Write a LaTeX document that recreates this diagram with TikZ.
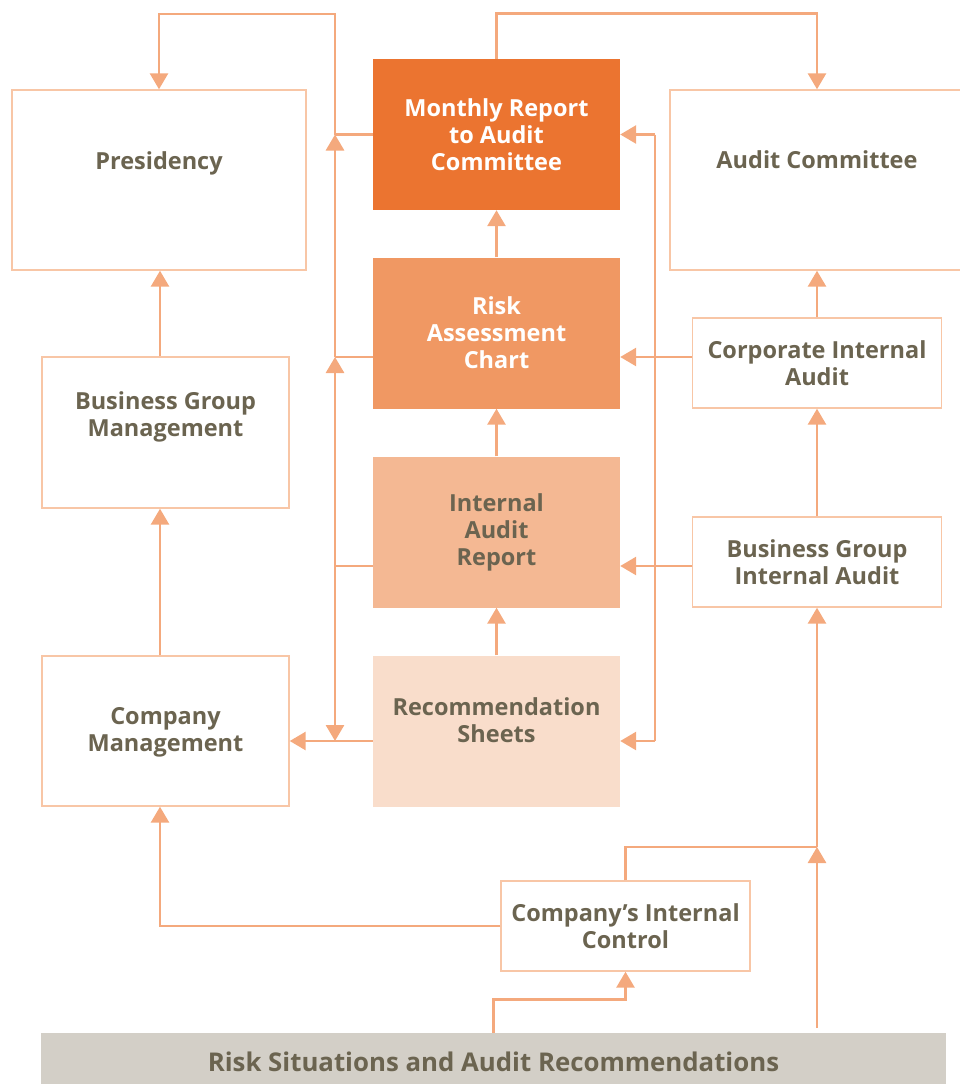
\documentclass[tikz,border=0pt]{standalone}
\usepackage{fontspec}
\setmainfont{Open Sans}
\usetikzlibrary{arrows.meta}

\definecolor{linkorange}{HTML}{F4A97D}
\definecolor{edgeorange}{HTML}{F8C6A6}
\definecolor{textbrown}{HTML}{6B6450}
\definecolor{monthfill}{HTML}{EB7430}
\definecolor{riskfill}{HTML}{F09863}
\definecolor{reportfill}{HTML}{F4B893}
\definecolor{sheetfill}{HTML}{F9DDCB}
\definecolor{barfill}{HTML}{D3CFC7}

\tikzset{
    unit box/.style={draw=edgeorange, line width=1.4pt, fill=white, inner sep=0pt},
    stage box/.style={draw=none, inner sep=0pt, minimum width=247pt, minimum height=151pt},
    label text/.style={text=textbrown, font=\fontsize{23.5}{27}\selectfont\bfseries, align=center, inner sep=0pt},
    white text/.style={label text, text=white},
    link/.style={draw=linkorange, line width=2.8pt},
    tip/.style={-{Triangle[width=18pt,length=16pt]}}
    }

\begin{document}
\begin{tikzpicture}[x=1pt,y=-1pt]
    \useasboundingbox (0,0) rectangle (959,1084);
    % Left column
    \node(presidency)[unit box, minimum width=294pt, minimum height=180pt] at (159,180) {};
    \node(presidency-t)[label text] at (159,163) {Presidency};
    \node(bgm)[unit box, minimum width=247pt, minimum height=151pt] at (165.5,432.5) {};
    \node(bgm-t)[label text] at (165.5,417) {Business Group\\Management};
    \node(company)[unit box, minimum width=247pt, minimum height=150pt] at (165.5,731) {};
    \node(company-t)[label text] at (165.5,732) {Company\\Management};
    % Middle column
    \node(monthly)[stage box, fill=monthfill, white text] at (496.5,134.5) {Monthly Report\\to Audit\\Committee};
    \node(risk)[stage box, fill=riskfill, white text] at (496.5,333) {Risk\\Assessment\\Chart};
    \node(report)[stage box, fill=reportfill, label text] at (496.5,532) {Internal\\Audit\\Report};
    \node(sheets)[stage box, fill=sheetfill] at (496.5,731) {};
    \node(sheets-t)[label text] at (496.5,720) {Recommendation\\Sheets};
    % Right column
    \node(auditcom)[unit box, minimum width=294pt, minimum height=180pt] at (817,180) {};
    \node(auditcom-t)[label text] at (817,160) {Audit Committee};
    \node(corpaudit)[unit box, minimum width=249pt, minimum height=90pt, label text] at (817,363) {Corporate Internal\\Audit};
    \node(bgaudit)[unit box, minimum width=249pt, minimum height=90pt, label text] at (817,562) {Business Group\\Internal Audit};
    \node(control)[unit box, minimum width=249pt, minimum height=90pt, label text] at (625.5,926) {Company’s Internal\\Control};
    % Bottom bar
    \node(bar)[fill=barfill, inner sep=0pt, minimum width=905pt, minimum height=51pt] at (493.5,1058.5) {};
    \node(bar-t)[label text, font=\fontsize{25.8}{30}\selectfont\bfseries] at (493.5,1062) {Risk Situations and Audit Recommendations};

    % Junctions
    \coordinate(lefttop) at (335,14);
    \coordinate(leftaxis) at (160,0);
    \coordinate(righttrunk) at (655,0);
    \coordinate(riskline) at (0,357);
    \coordinate(reportline) at (0,566);
    \coordinate(sheetsline) at (0,741);
    \coordinate(ctljoin) at (817,847);
    \coordinate(barstart) at (817,1028);

    % Middle chain
    \draw[link,tip] (risk.north) -- (monthly.south);
    \draw[link,tip] (report.north) -- (risk.south);
    \draw[link,tip] (sheets.north) -- (report.south);

    % Left trunk
    \draw[link] (monthly.west) -- (monthly.west -| lefttop);
    \draw[link,tip] (monthly.west -| lefttop) -- (lefttop) -| (presidency.north);
    \draw[link] (risk.west |- riskline) -- (lefttop |- riskline);
    \draw[link,tip] (lefttop |- riskline) -- (monthly.west -| lefttop);
    \draw[link] (report.west |- reportline) -- (lefttop |- reportline);
    \draw[link,tip] (lefttop |- reportline) -- (lefttop |- riskline);
    \draw[link,tip] (lefttop |- reportline) -- (lefttop |- sheetsline);
    \draw[link,tip] (sheets.west |- sheetsline) -- (company.east |- sheetsline);

    % Left column
    \draw[link,tip] (leftaxis |- bgm.north) -- (leftaxis |- presidency.south);
    \draw[link,tip] (leftaxis |- company.north) -- (leftaxis |- bgm.south);
    \draw[link,tip] (control.west) -| (leftaxis |- company.south);

    % Right trunk
    \draw[link,tip] (righttrunk |- monthly.east) -- (monthly.east);
    \draw[link] (righttrunk |- monthly.east) -- (righttrunk |- sheetsline);
    \draw[link,tip] (righttrunk |- sheetsline) -- (sheets.east |- sheetsline);
    \draw[link,tip] (corpaudit.west |- riskline) -- (risk.east |- riskline);
    \draw[link,tip] (bgaudit.west |- reportline) -- (report.east |- reportline);

    % Right column
    \draw[link,tip] (monthly.north) -- ++(0,-45) -| (auditcom.north);
    \draw[link,tip] (corpaudit.north) -- (auditcom.south);
    \draw[link,tip] (bgaudit.north) -- (corpaudit.south);
    \draw[link,tip] (barstart) -- (ctljoin);
    \draw[link,tip] (ctljoin) -- (bgaudit.south);
    \draw[link] (control.north) |- (ctljoin);
    \draw[link,tip] (bar.north) -- ++(0,-33) -| (control.south);
\end{tikzpicture}
\end{document}
